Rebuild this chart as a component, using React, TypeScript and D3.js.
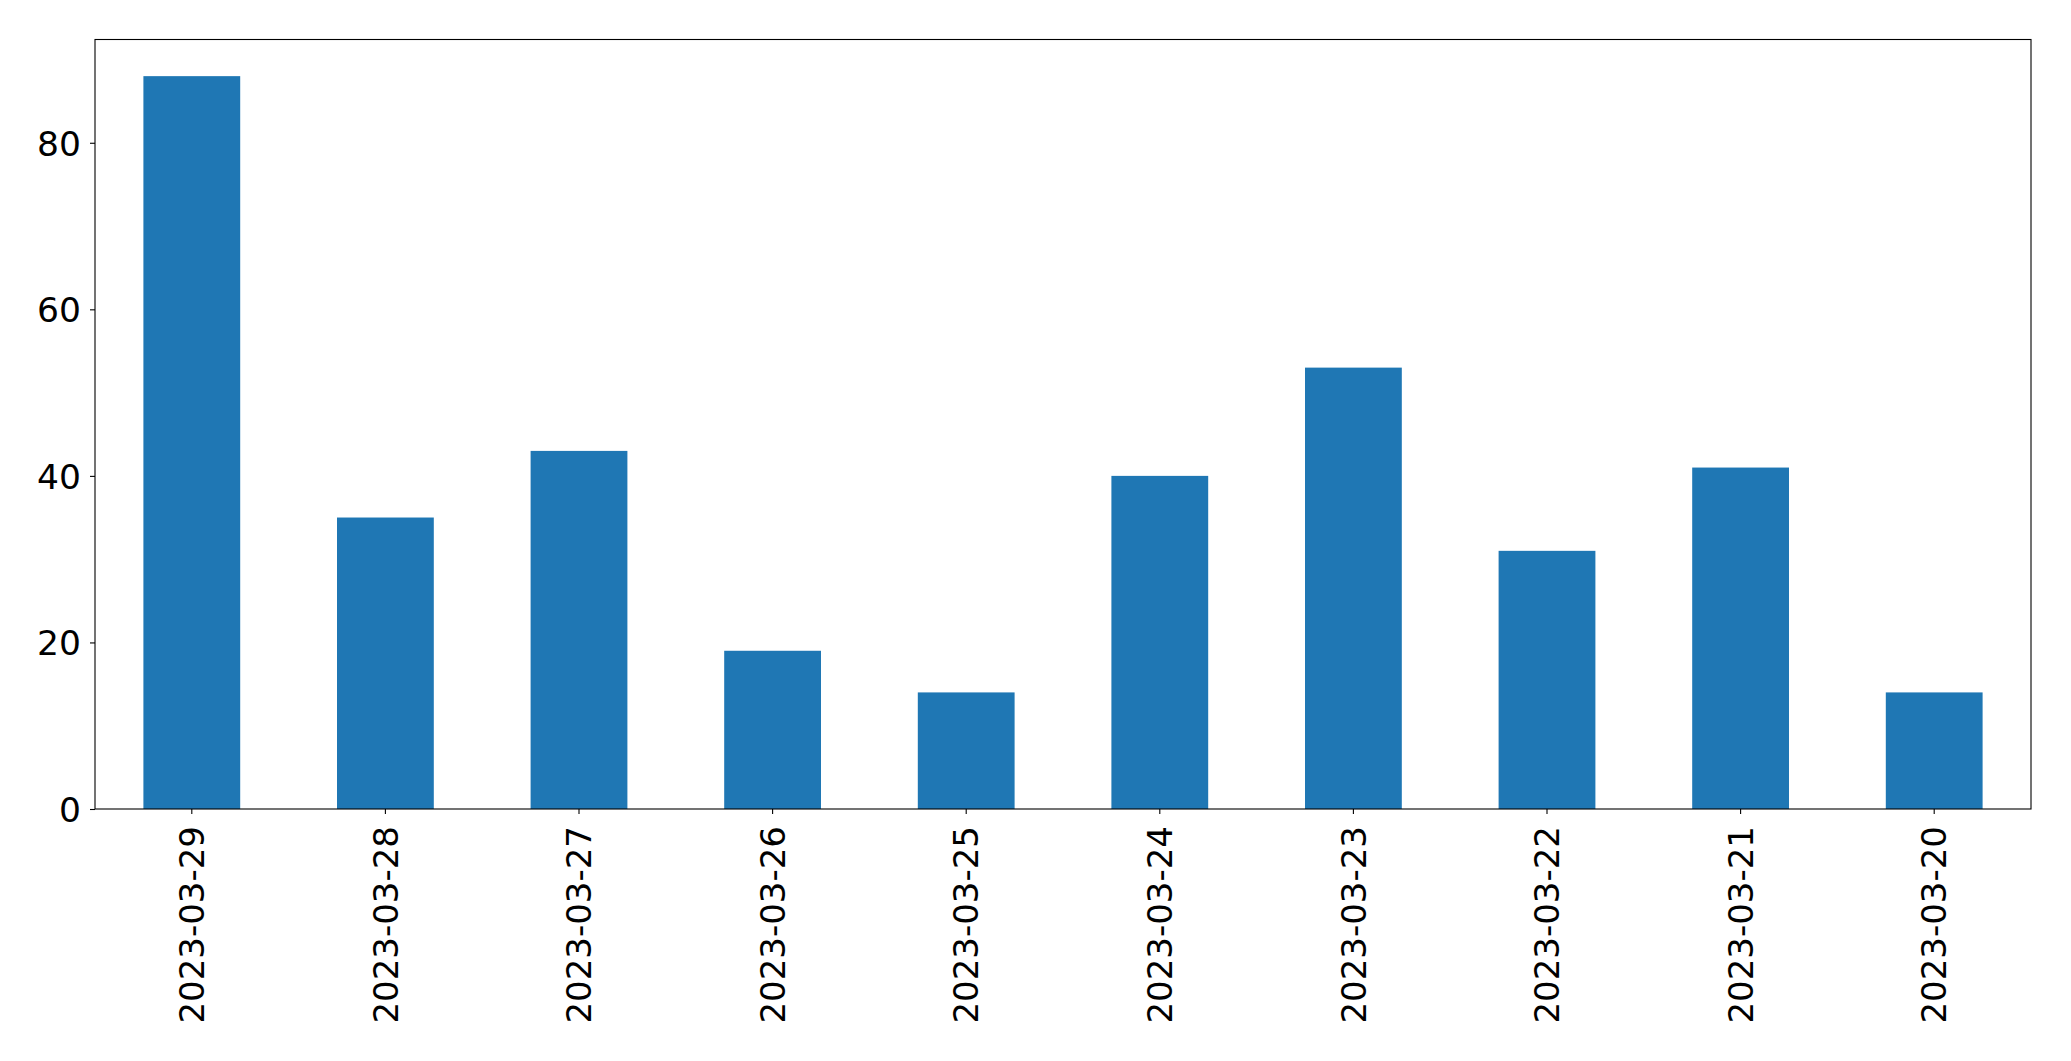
import React, { useEffect, useRef } from 'react';
import * as d3 from 'd3';

// dates in the order they are plotted (newest first)
const dates = [
  '2023-03-29', '2023-03-28', '2023-03-27', '2023-03-26', '2023-03-25',
  '2023-03-24', '2023-03-23', '2023-03-22', '2023-03-21', '2023-03-20',
];
const counts = [88, 35, 43, 19, 14, 40, 53, 31, 41, 14];
const yTicks = [0, 20, 40, 60, 80];

const App = () => {
  const ref = useRef<SVGSVGElement>(null);

  const W = 2071;
  const H = 1061;
  const margin = { top: 39.5, right: 40, bottom: 252, left: 95 };
  const width = W - margin.left - margin.right;
  const height = H - margin.top - margin.bottom;

  useEffect(() => {
    const svg = d3.select(ref.current);
    svg.selectAll('*').remove();

    const g = svg.append('g').attr('transform', `translate(${margin.left},${margin.top})`);

    const x = d3.scaleBand<string>()
      .domain(dates)
      .range([0, width])
      .paddingInner(0.5)
      .paddingOuter(0.25);

    // matplotlib-style 5% headroom
    const y = d3.scaleLinear()
      .domain([0, d3.max(counts)! * 1.05])
      .range([height, 0]);

    g.selectAll('rect.bar')
      .data(counts)
      .enter()
      .append('rect')
      .attr('class', 'bar')
      .attr('x', (_, i) => x(dates[i])!)
      .attr('width', x.bandwidth())
      .attr('y', d => y(d))
      .attr('height', d => height - y(d))
      .attr('fill', '#1f77b4');

    const font = 'DejaVu Sans, sans-serif';

    // y axis
    const yAxis = g.append('g')
      .call(d3.axisLeft(y).tickValues(yTicks).tickSize(5).tickPadding(9).tickFormat(d3.format('d')));
    yAxis.select('.domain').remove();
    yAxis.selectAll('line').attr('stroke', '#000').attr('stroke-width', 1.1);
    yAxis.selectAll('text')
      .attr('font-family', font)
      .attr('font-size', 34.5)
      .attr('fill', '#000')
      .attr('dy', '0.36em');

    // x axis
    const xAxis = g.append('g')
      .attr('transform', `translate(0,${height})`)
      .call(d3.axisBottom(x).tickSize(5).tickPadding(0));
    xAxis.select('.domain').remove();
    xAxis.selectAll('line').attr('stroke', '#000').attr('stroke-width', 1.1);
    xAxis.selectAll('text')
      .attr('font-family', font)
      .attr('font-size', 34)
      .attr('fill', '#000')
      .attr('text-anchor', 'end')
      .attr('dy', '0.36em')
      .attr('y', 0)
      .attr('transform', 'translate(0,17) rotate(-90)');

    // frame
    g.append('rect')
      .attr('x', 0)
      .attr('y', 0)
      .attr('width', width)
      .attr('height', height)
      .attr('fill', 'none')
      .attr('stroke', '#000')
      .attr('stroke-width', 1.1);
  }, []);

  return (
    <svg
      ref={ref}
      width={W}
      height={H}
      style={{ position: 'absolute', left: 0, top: 0, background: '#fff' }}
    />
  );
};

export default App;
